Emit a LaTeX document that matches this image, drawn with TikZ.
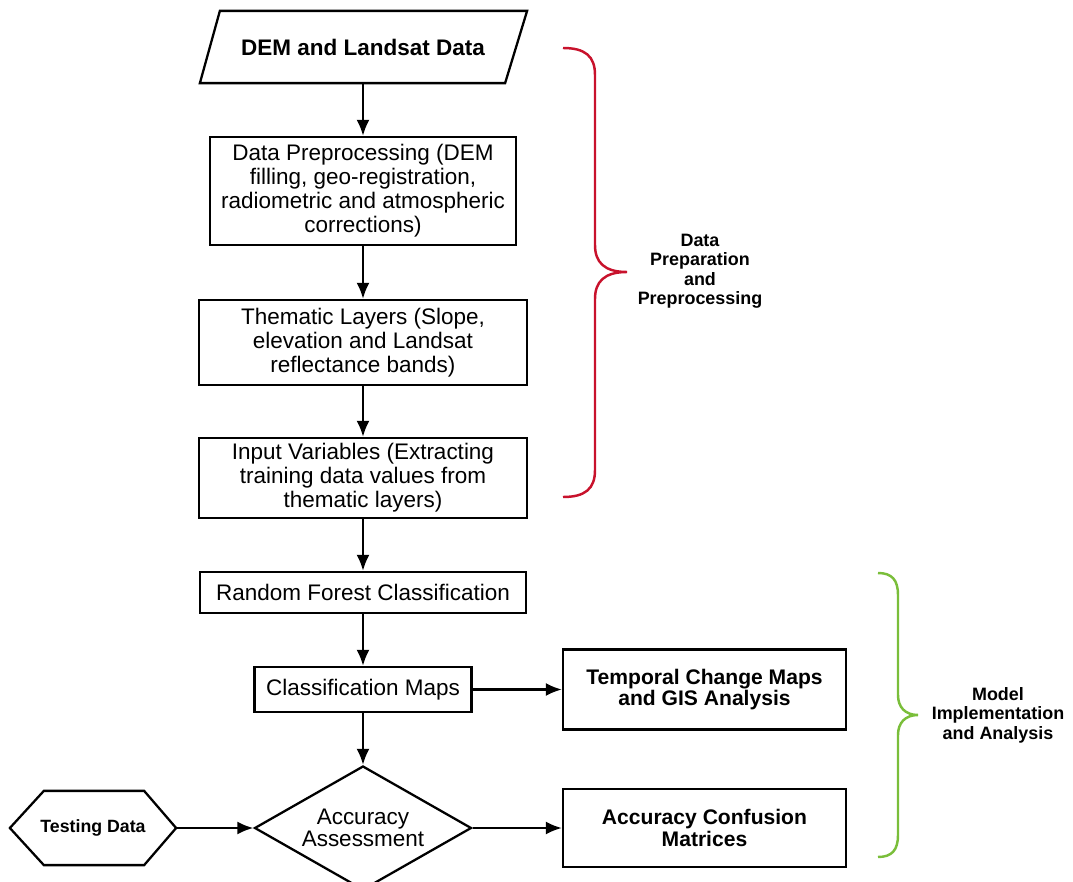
\documentclass[tikz,border=0pt]{standalone}
\usepackage{fontspec}
\setmainfont{Liberation Sans}
\usetikzlibrary{shapes.geometric, arrows.meta}
\definecolor{bracered}{RGB}{200,18,44}
\definecolor{bracegreen}{RGB}{122,190,58}

\begin{document}
\begin{tikzpicture}[x=0.02cm, y=-0.02cm, line width=1.3pt,
    box/.style={draw, inner sep=0pt, align=center, font=\fontsize{12.8}{13.7}\selectfont},
    boldbox/.style={box, font=\fontsize{12}{12.4}\selectfont\bfseries},
    flow/.style={-{Latex[length=3.2mm, width=2.6mm]}},
    bracelabel/.style={align=center, font=\fontsize{10.2}{11.1}\selectfont\bfseries}]
    \useasboundingbox (0,0) rectangle (1073,882);

    % input parallelogram
    \node[inner sep=0pt, minimum width=6.08cm, minimum height=1.4cm,
          font=\fontsize{12.8}{13.7}\selectfont\bfseries] (data) at (363,47) {DEM and Landsat Data};
    \draw ([xshift=-0.2cm]data.south west) -- ([xshift=0.2cm]data.north west)
        -- ([xshift=0.22cm]data.north east) -- ([xshift=-0.22cm]data.south east) -- cycle;

    \node[box, minimum width=6.12cm, minimum height=2.16cm] (prep) at (363,191) {
        Data Preprocessing (DEM\\filling, geo-registration,\\radiometric and atmospheric\\corrections)
    };
    \node[box, minimum width=6.56cm, minimum height=1.7cm] (layers) at (363,342.5) {
        Thematic Layers (Slope,\\elevation and Landsat\\reflectance bands)
    };
    \node[box, minimum width=6.56cm, minimum height=1.6cm] (inputs) at (363,478) {
        Input Variables (Extracting\\training data values from\\thematic layers)
    };
    \node[box, minimum width=6.52cm, minimum height=0.82cm] (forest) at (363,592.5) {Random Forest Classification};
    \node[box, minimum width=4.34cm, minimum height=0.9cm] (maps) at (363,689.5) {Classification Maps};
    \node[boldbox, minimum width=5.66cm, minimum height=1.6cm] (change) at (704.5,689.5) {
        Temporal Change Maps\\and GIS Analysis
    };
    \node[box, diamond, aspect=1.75, minimum width=4.34cm, minimum height=2.48cm,
          font=\fontsize{12.8}{12.3}\selectfont] (assess) at (363,828) {Accuracy\\Assessment};
    \node[boldbox, minimum width=5.66cm, minimum height=1.56cm] (matrix) at (704.5,828) {
        Accuracy Confusion\\Matrices
    };

    % testing data hexagon
    \node[inner sep=0pt, minimum width=3.28cm, minimum height=1.44cm,
          font=\fontsize{10.1}{12}\selectfont\bfseries] (test) at (93,828) {Testing Data};
    \draw (test.west) -- ([xshift=0.68cm]test.north west) -- ([xshift=-0.64cm]test.north east)
        -- (test.east) -- ([xshift=-0.64cm]test.south east) -- ([xshift=0.68cm]test.south west) -- cycle;

    \draw[flow] (data) -- (prep);
    \draw[flow] (prep) -- (layers);
    \draw[flow] (layers) -- (inputs);
    \draw[flow] (inputs) -- (forest);
    \draw[flow] (forest) -- (maps);
    \draw[flow] (maps) -- (assess);
    \draw[flow] (maps) -- (change);
    \draw[flow] (test) -- (assess);
    \draw[flow] (assess) -- (matrix);

    % braces
    \draw[bracered, line width=1.4pt] (563,48) .. controls (585,48) and (595,56) .. (595,75)
        -- (595,245) .. controls (595,262) and (604,272) .. (627,272)
        .. controls (604,272) and (595,282) .. (595,299)
        -- (595,470) .. controls (595,489) and (585,497) .. (563,497);
    \node[bracelabel] (preplabel) at (700,271) {Data\\Preparation\\and\\Preprocessing};

    \draw[bracegreen, line width=1.4pt] (878,573) .. controls (892,573) and (898,580) .. (898,595)
        -- (898,695) .. controls (898,707) and (905,715) .. (918,715)
        .. controls (905,715) and (898,723) .. (898,735)
        -- (898,835) .. controls (898,850) and (892,857) .. (878,857);
    \node[bracelabel] (modellabel) at (998,715) {Model\\Implementation\\and Analysis};
\end{tikzpicture}
\end{document}
